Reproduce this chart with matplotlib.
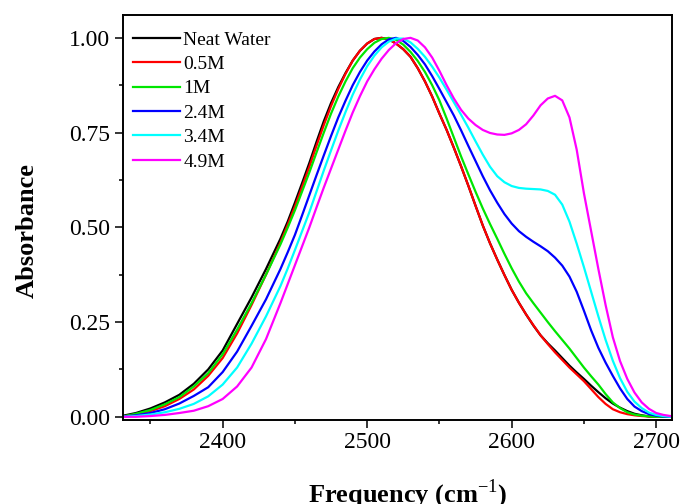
import matplotlib
matplotlib.use("Agg")
import matplotlib.pyplot as plt
from matplotlib.ticker import MultipleLocator, FormatStrFormatter

plt.rcParams["font.family"] = ["Liberation Serif", "DejaVu Serif"]
plt.rcParams["mathtext.fontset"] = "custom"
plt.rcParams["mathtext.rm"] = "Liberation Serif"
plt.rcParams["mathtext.bf"] = "Liberation Serif:bold"

# frequency grid (cm-1): 10 steps on the smooth left flank, 5 steps elsewhere
freq = [2330, 2340, 2350, 2360, 2370, 2380, 2390, 2400, 2410, 2420, 2430,
        2440, 2445, 2450, 2455, 2460, 2465, 2470, 2475, 2480, 2485, 2490,
        2495, 2500, 2505, 2510, 2515, 2520, 2525, 2530, 2535, 2540, 2545,
        2550, 2555, 2560, 2565, 2570, 2575, 2580, 2585, 2590, 2595, 2600,
        2605, 2610, 2615, 2620, 2625, 2630, 2635, 2640, 2645, 2650, 2655,
        2660, 2665, 2670, 2675, 2680, 2685, 2690, 2695, 2700, 2705, 2710]

# absorbance
neat_water = [0.002, 0.010, 0.022, 0.038, 0.058, 0.087, 0.125, 0.175, 0.245, 0.315, 0.390,
              0.470, 0.515, 0.565, 0.617, 0.670, 0.726, 0.780, 0.828, 0.870, 0.907, 0.940,
              0.966, 0.985, 0.997, 1.000, 0.996, 0.985, 0.970, 0.950, 0.920, 0.885, 0.845,
              0.800, 0.757, 0.710, 0.661, 0.610, 0.557, 0.505, 0.458, 0.415, 0.374, 0.335,
              0.301, 0.270, 0.241, 0.215, 0.194, 0.175, 0.155, 0.135, 0.117, 0.100, 0.082,
              0.065, 0.049, 0.035, 0.024, 0.015, 0.008, 0.004, 0.001, 0.000, 0.000, 0.000]

m05 = [0.000, 0.006, 0.015, 0.028, 0.047, 0.072, 0.108, 0.155, 0.220, 0.295, 0.375,
       0.460, 0.507, 0.555, 0.607, 0.660, 0.716, 0.770, 0.820, 0.865, 0.905, 0.940,
       0.966, 0.985, 0.997, 1.000, 0.996, 0.985, 0.970, 0.950, 0.920, 0.885, 0.845,
       0.800, 0.757, 0.710, 0.661, 0.610, 0.557, 0.505, 0.458, 0.415, 0.374, 0.335,
       0.301, 0.270, 0.242, 0.215, 0.192, 0.170, 0.150, 0.130, 0.112, 0.094, 0.073,
       0.052, 0.034, 0.020, 0.012, 0.007, 0.004, 0.002, 0.001, 0.000, 0.000, 0.000]

m1 = [0.000, 0.008, 0.018, 0.033, 0.052, 0.080, 0.115, 0.165, 0.230, 0.300, 0.375,
      0.455, 0.499, 0.545, 0.595, 0.645, 0.698, 0.750, 0.800, 0.845, 0.885, 0.920,
      0.948, 0.970, 0.987, 0.997, 1.000, 0.995, 0.982, 0.963, 0.939, 0.910, 0.875,
      0.835, 0.787, 0.737, 0.687, 0.640, 0.594, 0.550, 0.509, 0.470, 0.430, 0.392,
      0.357, 0.326, 0.300, 0.275, 0.250, 0.226, 0.203, 0.180, 0.155, 0.130, 0.107,
      0.085, 0.060, 0.038, 0.023, 0.012, 0.006, 0.003, 0.001, 0.000, 0.000, 0.000]

m24 = [0.000, 0.004, 0.010, 0.020, 0.035, 0.055, 0.078, 0.118, 0.172, 0.240, 0.310,
       0.390, 0.434, 0.480, 0.532, 0.585, 0.638, 0.690, 0.741, 0.790, 0.834, 0.875,
       0.910, 0.940, 0.964, 0.983, 0.996, 1.000, 0.992, 0.976, 0.955, 0.930, 0.899,
       0.865, 0.830, 0.795, 0.756, 0.715, 0.675, 0.635, 0.598, 0.565, 0.535, 0.510,
       0.490, 0.475, 0.462, 0.450, 0.437, 0.420, 0.399, 0.370, 0.330, 0.280, 0.228,
       0.182, 0.143, 0.108, 0.075, 0.047, 0.027, 0.015, 0.007, 0.003, 0.001, 0.000]

m34 = [0.000, 0.002, 0.006, 0.012, 0.021, 0.034, 0.054, 0.085, 0.130, 0.193, 0.265,
       0.345, 0.391, 0.440, 0.490, 0.540, 0.595, 0.650, 0.703, 0.755, 0.804, 0.850,
       0.890, 0.925, 0.953, 0.975, 0.990, 0.998, 0.998, 0.988, 0.971, 0.950, 0.924,
       0.895, 0.863, 0.830, 0.797, 0.763, 0.727, 0.692, 0.660, 0.635, 0.619, 0.609,
       0.604, 0.602, 0.601, 0.600, 0.596, 0.586, 0.560, 0.515, 0.457, 0.395, 0.330,
       0.265, 0.203, 0.148, 0.102, 0.066, 0.040, 0.023, 0.011, 0.005, 0.002, 0.000]

m49 = [0.000, 0.000, 0.002, 0.005, 0.010, 0.016, 0.028, 0.047, 0.080, 0.130, 0.205,
       0.300, 0.350, 0.400, 0.450, 0.500, 0.553, 0.605, 0.655, 0.705, 0.755, 0.803,
       0.846, 0.885, 0.917, 0.945, 0.968, 0.986, 0.997, 1.000, 0.993, 0.975, 0.948,
       0.913, 0.875, 0.840, 0.810, 0.787, 0.770, 0.757, 0.749, 0.745, 0.744, 0.748,
       0.757, 0.772, 0.795, 0.822, 0.840, 0.847, 0.835, 0.790, 0.705, 0.590, 0.490,
       0.390, 0.295, 0.210, 0.147, 0.100, 0.064, 0.038, 0.021, 0.010, 0.005, 0.002]

series = [neat_water, m05, m1, m24, m34, m49]
labels = ["Neat Water", "0.5M", "1M", "2.4M", "3.4M", "4.9M"]
colors = ["black", "#ff0000", "#00e600", "#0000ff", "#00ffff", "#ff00ff"]

fig = plt.figure(figsize=(6.83, 5.04), dpi=100)
ax = fig.add_axes([0.180, 0.167, 0.804, 0.803])

for vals, lab, col in zip(series, labels, colors):
    ax.plot(freq, vals, color=col, lw=1.6, label=lab)

ax.set_xlim(2331, 2711)
ax.set_ylim(-0.008, 1.06)

ax.xaxis.set_major_locator(MultipleLocator(100))
ax.xaxis.set_minor_locator(MultipleLocator(50))
ax.yaxis.set_major_locator(MultipleLocator(0.25))
ax.yaxis.set_minor_locator(MultipleLocator(0.125))
ax.yaxis.set_major_formatter(FormatStrFormatter("%.2f"))

ax.tick_params(which="major", direction="out", length=6, width=1.1,
               labelsize=17, pad=3)
ax.tick_params(which="minor", direction="out", length=3, width=1.1)
ax.tick_params(top=False, right=False, which="both")
for sp in ax.spines.values():
    sp.set_linewidth(1.4)

ax.set_xlabel(r"Frequency (cm$^{-1}$)", fontsize=19, fontweight="bold",
              va="baseline")
ax.xaxis.set_label_coords(0.518, -0.203)
ax.set_ylabel("Absorbance", fontsize=19, fontweight="bold")
ax.yaxis.set_label_coords(-0.153, 0.467)

ax.legend(loc="upper left", bbox_to_anchor=(0.004, 0.98), frameon=False,
          fontsize=14, handlelength=2.4, handletextpad=0.2,
          labelspacing=0.35, borderaxespad=0.0)

fig.savefig("out.png", dpi=100)
